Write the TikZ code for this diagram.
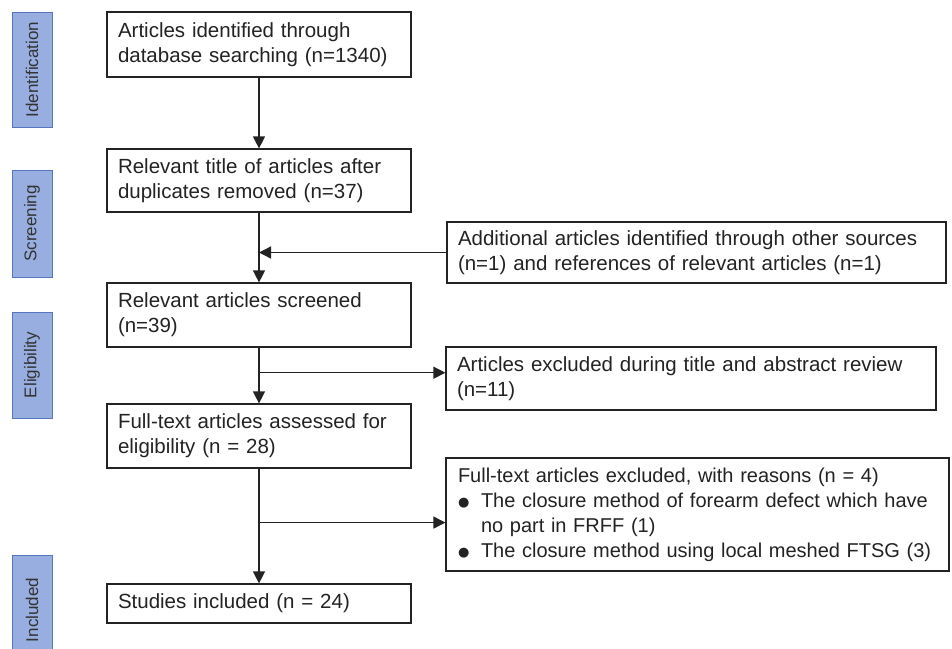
\documentclass[tikz,border=0pt]{standalone}
\usepackage{fontspec}
\setmainfont{Liberation Sans}
\newfontfamily\symfont{DejaVu Sans}
\usetikzlibrary{arrows.meta, calc}

\definecolor{phasefill}{RGB}{152,174,224}
\definecolor{phaseline}{RGB}{88,118,190}
\definecolor{inkgrey}{RGB}{35,35,35}
\newcommand{\bulitem}{\makebox[23pt][l]{\raisebox{1pt}{\symfont\fontsize{13}{13}\selectfont ●}}}

\begin{document}
\begin{tikzpicture}[x=1pt, y=-1pt,
    flowbox/.style={draw=inkgrey, line width=1.2pt, fill=white, text=inkgrey,
        inner xsep=11pt, inner ysep=0pt, align=left,
        font=\fontsize{20.5}{25}\selectfont},
    phasebox/.style={draw=phaseline, line width=1pt, fill=phasefill, text=black!80,
        rotate=90, minimum height=40pt, inner sep=0pt,
        font=\fontsize{17}{20}\selectfont},
    flow/.style={-{Triangle[length=12pt,width=12pt]}, line width=1.3pt, draw=inkgrey}]

    \useasboundingbox (0,0) rectangle (952,648);

    % Phase labels on the left
    \foreach \yc/\plen/\phase [count=\k] in {69.5/115/Identification, 223.5/107/Screening,
            365/106/Eligibility, 610/110/Included}{
        \node[phasebox, minimum width=\plen pt] (phase\k) at (32,\yc) {\phase};
    }

    % Main column
    \node[flowbox, text width=282pt, minimum height=65pt] (ident) at (259,44.5)
        {Articles identified through\\database searching (n=1340)};
    \node[flowbox, text width=282pt, minimum height=63pt] (dedup) at (259,180.5)
        {Relevant title of articles after\\duplicates removed (n=37)};
    \node[flowbox, text width=282pt, minimum height=64pt] (screen) at (259,315)
        {Relevant articles screened\\(n=39)};
    \node[flowbox, text width=282pt, minimum height=64pt] (fulltext) at (259,436)
        {Full-text articles assessed for\\eligibility (n = 28)};
    \node[flowbox, text width=282pt, minimum height=39pt] (included) at (259,603.5)
        {Studies included (n = 24)};

    % Side boxes
    \node[flowbox, text width=477pt, minimum height=61pt] (extra) at (696.5,252.5)
        {Additional articles identified through other sources\\(n=1) and references of relevant articles (n=1)};
    \node[flowbox, text width=468pt, minimum height=63pt] (titleabs) at (691,378.5)
        {Articles excluded during title and abstract review\\(n=11)};
    \node[flowbox, text width=479pt, minimum height=113pt, inner xsep=12pt,
        font=\fontsize{20}{25}\selectfont] (excluded) at (697.5,514.5)
        {\mbox{Full-text articles excluded, with reasons (n = 4)}\\
         \mbox{\bulitem The closure method of forearm defect which have}\\
         \mbox{\hspace*{23pt}no part in FRFF (1)}\\
         \mbox{\bulitem The closure method using local meshed FTSG (3)}};

    % Connectors
    \draw[flow] (ident) -- (dedup);
    \draw[flow] (dedup) -- (screen);
    \coordinate (join) at (extra.west -| dedup.south);
    \draw[flow] (extra.west) -- (join);
    \draw[flow] (screen) -- (fulltext);
    \coordinate (split1) at ($(screen.south)!0.45!(fulltext.north)$);
    \draw[flow] (split1) -- (split1 -| titleabs.west);
    \draw[flow] (fulltext) -- (included);
    \coordinate (split2) at ($(fulltext.south)!0.47!(included.north)$);
    \draw[flow] (split2) -- (split2 -| excluded.west);

\end{tikzpicture}
\end{document}
